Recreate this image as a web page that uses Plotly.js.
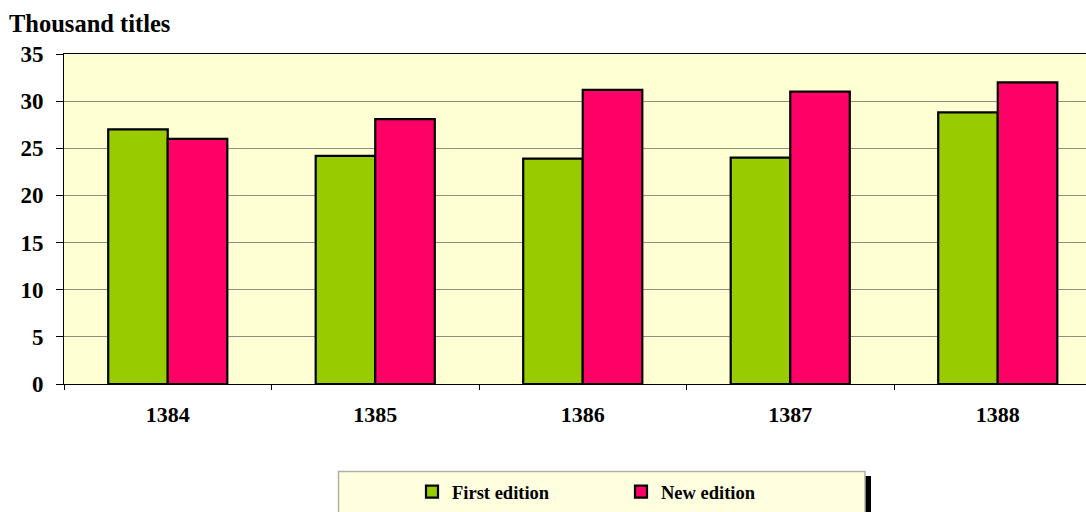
<!DOCTYPE html>
<html>
<head>
<meta charset="utf-8">
<script src="https://cdn.plot.ly/plotly-3.0.1.min.js"></script>
<style>html,body{margin:0;padding:0;background:#fff;}#chart{width:1086px;height:512px;}</style>
</head>
<body>
<div id="chart"></div>
<script>
const years = ["1384", "1385", "1386", "1387", "1388"];
const firstEdition = [27.0, 24.2, 23.9, 24.0, 28.8];
const newEdition = [26.0, 28.1, 31.2, 31.0, 32.0];
const seriesNames = ["First edition", "New edition"];
const yTicks = [0, 5, 10, 15, 20, 25, 30, 35];
const titleText = "Thousand titles";

const FONT = "Liberation Serif, Times New Roman, serif";
const L = 64, T = 54, B = 128, W = 1086, H = 512;
const plotW = W - L, plotH = H - T - B;
const px2x = p => (p - L) / plotW;
const px2y = p => (H - B - p) / plotH;

const traces = [
  {type: "bar", name: seriesNames[0], x: years, y: firstEdition,
   marker: {color: "#99CC00", line: {color: "#000000", width: 2.2}}},
  {type: "bar", name: seriesNames[1], x: years, y: newEdition,
   marker: {color: "#FF0066", line: {color: "#000000", width: 2.2}}}
];

const layout = {
  width: W, height: H,
  margin: {l: L, r: 0, t: T, b: B, pad: 0},
  paper_bgcolor: "#ffffff",
  plot_bgcolor: "#FFFFD4",
  barmode: "group",
  bargap: 0.426,
  bargroupgap: 0,
  font: {family: FONT, color: "#000000"},
  title: {text: titleText, x: 9 / W, xanchor: "left", y: 1 - 23 / H, yanchor: "middle",
          font: {family: FONT, size: 24.5, weight: "bold", color: "#000"}},
  xaxis: {
    type: "category", range: [-0.5, -0.5 + plotW / 207.5],
    showline: true, linecolor: "#000", linewidth: 1, mirror: true,
    ticks: "outside", ticklen: 5, tickcolor: "#000", tickson: "boundaries",
    showgrid: false, zeroline: false,
    tickfont: {family: FONT, size: 22, weight: "bold", color: "#000"},
    ticklabelstandoff: 11
  },
  yaxis: {
    range: [0, 35], tickvals: yTicks, ticktext: yTicks.map(String),
    showline: true, linecolor: "#000", linewidth: 1,
    ticks: "outside", ticklen: 7, tickcolor: "#000",
    showgrid: true, gridcolor: "#8f8f80", gridwidth: 1,
    zeroline: true, zerolinecolor: "#000", zerolinewidth: 1,
    tickfont: {family: FONT, size: 23, weight: "bold", color: "#000"},
    ticklabelstandoff: 8
  },
  showlegend: true,
  legend: {
    orientation: "h", x: px2x(412), xanchor: "left", y: px2y(492), yanchor: "middle",
    bgcolor: "rgba(0,0,0,0)", borderwidth: 0, entrywidth: 164,
    font: {family: FONT, size: 18.5, weight: "bold", color: "#000"}
  },
  shapes: [
    {type: "rect", xref: "paper", yref: "paper", x0: px2x(865), x1: px2x(871), y0: px2y(476), y1: px2y(520),
     fillcolor: "#000", line: {width: 0}, layer: "below"},
    {type: "rect", xref: "paper", yref: "paper", x0: px2x(338.5), x1: px2x(865), y0: px2y(471.5), y1: px2y(520),
     fillcolor: "#FFFFE0", line: {color: "#b0b0a8", width: 1.5}, layer: "below"}
  ]
};

Plotly.newPlot("chart", traces, layout, {displayModeBar: false, staticPlot: true});
</script>
</body>
</html>
